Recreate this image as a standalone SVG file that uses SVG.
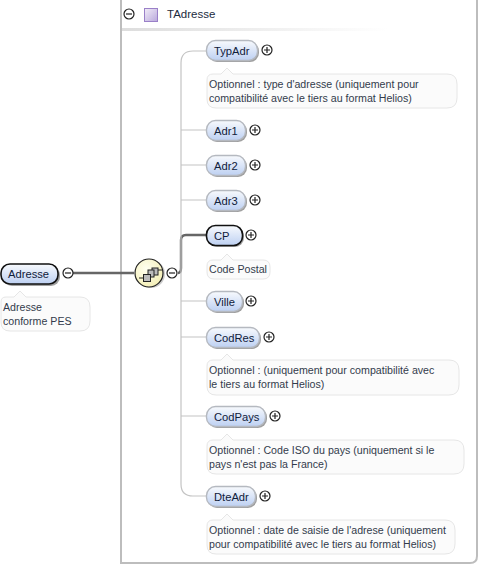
<svg xmlns="http://www.w3.org/2000/svg" width="479" height="565" viewBox="0 0 479 565">
<style>
text{font-family:"Liberation Sans",Arial,sans-serif;font-size:10.650px;fill:#1c2b40}
.nm{font-size:11.200px;fill:#10203a}
.box{fill:url(#g);stroke:#b5b9c0;stroke-width:1.4}
.sel{fill:url(#g);stroke:#111;stroke-width:1.6}
.sh{fill:#777;opacity:.7}
.note{fill:#fbfbfb;stroke:#e6e6e6;stroke-width:1}
.note-t{fill:#333c4c}
.tg{fill:#fff;stroke:#222;stroke-width:1.2}
.sym{stroke:#222;stroke-width:1.2;fill:none}
.thin{fill:none;stroke:#c4c4c4;stroke-width:1.2}
.thick{fill:none;stroke:#666;stroke-width:2.4}
</style>
<defs>
<linearGradient id="g" x1="0" y1="0" x2="0" y2="1"><stop offset="0" stop-color="#f8fafd"/><stop offset="1" stop-color="#bdd0f2"/></linearGradient>
<linearGradient id="t" x1="0" y1="0" x2="1" y2="1"><stop offset="0" stop-color="#f2edf8"/><stop offset="1" stop-color="#b9a8dc"/></linearGradient>
<radialGradient id="c" cx=".4" cy=".35" r=".7"><stop offset="0" stop-color="#fffff0"/><stop offset="1" stop-color="#f3eeb4"/></radialGradient>
<linearGradient id="fade" x1="0" y1="0" x2="1" y2="0"><stop offset="0" stop-color="#ddd"/><stop offset="1" stop-color="#fff"/></linearGradient>
<g id="plus"><circle class="tg" r="5"/><path class="sym" d="M-3 0H3M0-3V3"/></g>
<g id="minus"><circle class="tg" r="5"/><path class="sym" d="M-3 0H3"/></g>
</defs>
<g id="frame">
<path d="M121 0V563H470Q477 563 477 556V0" fill="none" stroke="#bdbdbd" stroke-width="2"/>
<rect x="122" y="28" width="265" height="3" fill="url(#fade)"/>
<use href="#minus" x="129" y="14"/>
<rect x="144.500" y="8.500" width="13" height="13" fill="url(#t)" stroke="#9a80c8"/>
<text x="167" y="18" style="font-size:11.500px">TAdresse</text>
</g>
<g id="connectors">
<path class="thick" d="M73 273H134"/>
<path class="thick" d="M178 273Q181 273 181 268V240Q181 235 186 235H206"/>
<path class="thin" d="M206 51H193Q181 51 181 63V484Q181 496 193 496H206"/>
<path class="thin" d="M181 130H206M181 165H206M181 200H206M181 301H206M181 337H206M181 416H206"/>
</g>
<g id="Adresse">
<rect class="sh" x="3" y="266" width="57" height="20" rx="9"/>
<rect class="sel" x="1" y="264" width="57" height="20" rx="9"/>
<text class="nm" x="8" y="278">Adresse</text>
<use href="#minus" x="68" y="273"/>
<path class="note" d="M6 297H14L20 291L26 297H80Q90 297 90 307V321Q90 331 80 331H10Q1 331 1 322V302Q1 297 6 297Z"/>
<text class="note-t" x="3" y="311">Adresse</text>
<text class="note-t" x="3" y="325">conforme PES</text>
</g>
<g id="sequence">
<circle cx="151" cy="274" r="14" fill="#999" opacity=".5"/>
<circle cx="149" cy="273" r="14" fill="url(#c)" stroke="#222" stroke-width="1.2"/>
<path class="sym" d="M139 278H143M158 270H162"/>
<rect x="152" y="268" width="6" height="7" fill="#bbb" stroke="#222"/>
<rect x="148" y="270" width="6" height="7" fill="#bbb" stroke="#222"/>
<rect x="143.500" y="274.500" width="7" height="7" fill="#bbb" stroke="#222"/>
<use href="#minus" x="172" y="273"/>
</g>
<g id="TypAdr">
<rect class="sh" x="208" y="42" width="51" height="20" rx="9"/>
<rect class="box" x="206.500" y="40.500" width="51" height="20" rx="9"/>
<text class="nm" x="214" y="55">TypAdr</text>
<use href="#plus" x="267" y="50"/>
<path class="note" d="M213 74H221L227 68L233 74H447Q457 74 457 84V98Q457 108 447 108H216Q207 108 207 99V80Q207 74 213 74Z"/>
<text class="note-t" x="209" y="88">Optionnel : type d'adresse (uniquement pour</text>
<text class="note-t" x="209" y="102">compatibilité avec le tiers au format Helios)</text>
</g>
<g id="Adr1">
<rect class="sh" x="208" y="122" width="39" height="20" rx="9"/>
<rect class="box" x="206.500" y="120.500" width="39" height="20" rx="9"/>
<text class="nm" x="214" y="135">Adr1</text>
<use href="#plus" x="255" y="130"/>
</g>
<g id="Adr2">
<rect class="sh" x="208" y="157" width="39" height="20" rx="9"/>
<rect class="box" x="206.500" y="155.500" width="39" height="20" rx="9"/>
<text class="nm" x="214" y="170">Adr2</text>
<use href="#plus" x="255" y="165"/>
</g>
<g id="Adr3">
<rect class="sh" x="208" y="192" width="39" height="20" rx="9"/>
<rect class="box" x="206.500" y="190.500" width="39" height="20" rx="9"/>
<text class="nm" x="214" y="205">Adr3</text>
<use href="#plus" x="255" y="200"/>
</g>
<g id="CP">
<rect class="sh" x="208" y="227" width="36" height="20" rx="9"/>
<rect class="sel" x="206.500" y="225.500" width="36" height="20" rx="9"/>
<text class="nm" x="214" y="240">CP</text>
<use href="#plus" x="251" y="235"/>
<path class="note" d="M213 260H221L227 254L233 260H263Q270 260 270 267V272Q270 279 263 279H214Q207 279 207 272V266Q207 260 213 260Z"/>
<text class="note-t" x="209" y="273">Code Postal</text>
</g>
<g id="Ville">
<rect class="sh" x="208" y="293" width="36" height="20" rx="9"/>
<rect class="box" x="206.500" y="291.500" width="36" height="20" rx="9"/>
<text class="nm" x="214" y="306">Ville</text>
<use href="#plus" x="251" y="301"/>
</g>
<g id="CodRes">
<rect class="sh" x="208" y="329" width="53" height="20" rx="9"/>
<rect class="box" x="206.500" y="327.500" width="53" height="20" rx="9"/>
<text class="nm" x="214" y="342">CodRes</text>
<use href="#plus" x="269" y="337"/>
<path class="note" d="M213 360H221L227 354L233 360H449Q459 360 459 370V385Q459 395 449 395H216Q207 395 207 386V366Q207 360 213 360Z"/>
<text class="note-t" x="209" y="374">Optionnel : (uniquement pour compatibilité avec</text>
<text class="note-t" x="209" y="388">le tiers au format Helios)</text>
</g>
<g id="CodPays">
<rect class="sh" x="208" y="408" width="59" height="20" rx="9"/>
<rect class="box" x="206.500" y="406.500" width="59" height="20" rx="9"/>
<text class="nm" x="214" y="421">CodPays</text>
<use href="#plus" x="275" y="416"/>
<path class="note" d="M213 440H221L227 434L233 440H454Q464 440 464 450V464Q464 474 454 474H216Q207 474 207 465V446Q207 440 213 440Z"/>
<text class="note-t" x="209" y="454">Optionnel : Code ISO du pays (uniquement si le</text>
<text class="note-t" x="209" y="468">pays n'est pas la France)</text>
</g>
<g id="DteAdr">
<rect class="sh" x="208" y="488" width="49" height="20" rx="9"/>
<rect class="box" x="206.500" y="486.500" width="49" height="20" rx="9"/>
<text class="nm" x="214" y="501">DteAdr</text>
<use href="#plus" x="265" y="496"/>
<path class="note" d="M213 520H221L227 514L233 520H445Q455 520 455 530V544Q455 554 445 554H216Q207 554 207 545V526Q207 520 213 520Z"/>
<text class="note-t" x="209" y="534">Optionnel : date de saisie de l'adrese (uniquement</text>
<text class="note-t" x="209" y="548">pour compatibilité avec le tiers au format Helios)</text>
</g>
</svg>
